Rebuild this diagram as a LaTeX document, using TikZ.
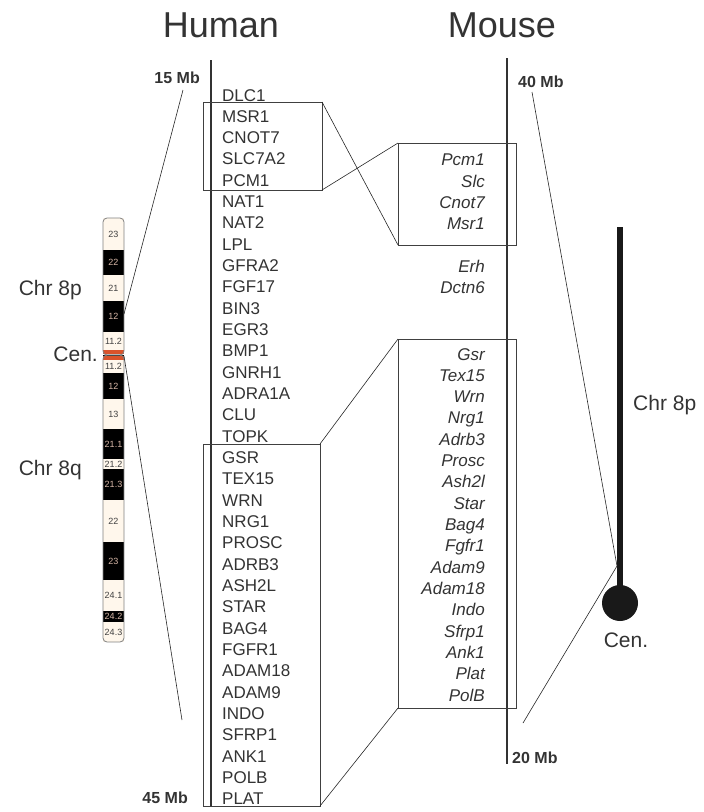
\documentclass[tikz,border=0pt]{standalone}
\usepackage{fontspec}
\setmainfont{Liberation Sans}
\definecolor{ink}{HTML}{333333}
\definecolor{cream}{HTML}{FFF7EC}
\definecolor{cenred}{HTML}{D9532B}
\definecolor{darklab}{HTML}{D8B8A8}
\tikzset{
  hgene/.style={inner sep=0pt, anchor=base west, text=ink, font=\fontsize{17}{17}\selectfont},
  mgene/.style={inner sep=0pt, anchor=base east, text=ink, font=\fontsize{17}{17}\selectfont\itshape},
  mb/.style={inner sep=0pt, text=ink, font=\fontsize{16}{16}\selectfont\bfseries},
  chrlab/.style={inner sep=0pt, text=ink, font=\fontsize{21}{21}\selectfont},
  title/.style={inner sep=0pt, anchor=base, text=ink, font=\fontsize{36}{36}\selectfont},
  axis/.style={line width=1.8pt, ink},
  box/.style={line width=0.8pt, black!75},
  link/.style={line width=0.6pt, black!85},
  bandlab/.style={inner sep=0pt, font=\fontsize{9}{9}\selectfont}
}
\begin{document}
\begin{tikzpicture}[x=1pt,y=-1pt]
\useasboundingbox (0,0) rectangle (704,812);

\node[title] (human) at (221,37) {Human};
\node[title] (mouse) at (502,37) {Mouse};

\coordinate (htop) at (211,60);
\coordinate (hbot) at (211,806);
\coordinate (mtop) at (507,58);
\coordinate (mbot) at (507,764);
\draw[axis] (htop) -- (hbot);
\draw[axis] (mtop) -- (mbot);

\node[mb, anchor=base east] (h15) at (200,83) {15 Mb};
\node[mb, anchor=base east] (h45) at (188,803) {45 Mb};
\node[mb, anchor=base west] (m40) at (518,87) {40 Mb};
\node[mb, anchor=base west] (m20) at (512,763) {20 Mb};

\foreach \g [count=\i from 0] in {DLC1,MSR1,CNOT7,SLC7A2,PCM1,NAT1,NAT2,LPL,GFRA2,FGF17,BIN3,EGR3,BMP1,GNRH1,ADRA1A,CLU,TOPK,GSR,TEX15,WRN,NRG1,PROSC,ADRB3,ASH2L,STAR,BAG4,FGFR1,ADAM18,ADAM9,INDO,SFRP1,ANK1,POLB,PLAT}
  \node[hgene] (hg\i) at (222,{101+21.33*\i}) {\g};

\foreach \g/\y in {Pcm1/165,Slc/187,Cnot7/208,Msr1/229,Erh/272,Dctn6/293}
  \node[mgene] (mg\g) at (485,\y) {\g};
\foreach \g [count=\i from 0] in {Gsr,Tex15,Wrn,Nrg1,Adrb3,Prosc,Ash2l,Star,Bag4,Fgfr1,Adam9,Adam18,Indo,Sfrp1,Ank1,Plat,PolB}
  \node[mgene] (mh\i) at (485,{360+21.33*\i}) {\g};

\coordinate (hAtl) at (203,102);
\coordinate (hAbr) at (322,190);
\coordinate (mAtl) at (398,143);
\coordinate (mAbr) at (516,245);
\draw[box] (hAtl) rectangle (hAbr);
\draw[box] (mAtl) rectangle (mAbr);
\draw[link] (hAtl -| hAbr) -- (mAtl |- mAbr);
\draw[link] (hAbr) -- (mAtl);

\coordinate (hBtl) at (203,444);
\coordinate (hBbr) at (320,806);
\coordinate (mBtl) at (398,339);
\coordinate (mBbr) at (516,708);
\draw[box] (hBtl) rectangle (hBbr);
\draw[box] (mBtl) rectangle (mBbr);
\draw[link] (hBtl -| hBbr) -- (mBtl);
\draw[link] (hBbr) -- (mBtl |- mBbr);

\foreach \t/\b/\d/\l in {218/250/0/23,250/275/1/22,275/301/0/21,301/332/1/12,332/350/0/11.2,360/373/0/11.2,373/399/1/12,399/429/0/13,429/459/1/21.1,459/469/0/21.2,469/500/1/21.3,500/542/0/22,542/580/1/23,580/611/0/24.1,611/622/1/24.2,622/642/0/24.3}{
  \ifnum\d=1
    \fill[black] (103,\t) rectangle (124,\b);
    \node[bandlab, text=darklab] at (113.5,{(\t+\b)/2}) {\l};
  \else
    \fill[cream] (103,\t) rectangle (124,\b);
    \node[bandlab, text=black!75] at (113.5,{(\t+\b)/2}) {\l};
  \fi
}
\fill[cenred] (103,350) rectangle (124,354);
\fill[cenred] (103,356) rectangle (124,360);
\draw[line width=1pt] (103,355) -- (124,355);
\draw[gray, line width=0.8pt, rounded corners=4pt] (103,218) rectangle (124,355);
\draw[gray, line width=0.8pt, rounded corners=4pt] (103,355) rectangle (124,642);

\node[chrlab, anchor=base east] (p8h) at (82,295) {Chr 8p};
\node[chrlab, anchor=base east] (cenh) at (98,361) {Cen.};
\node[chrlab, anchor=base east] (q8h) at (82,475) {Chr 8q};

\coordinate (ip) at (124,314);
\coordinate (iq) at (124,356);
\coordinate (hp) at (183,90);
\coordinate (hq) at (182,720);
\draw[link] (ip) -- (hp);
\draw[link] (iq) -- (hq);

\fill[black!90] (617,227) rectangle (623,592);
\fill[black!90] (620,603) circle (18);
\node[chrlab, anchor=base west] (p8m) at (633,410) {Chr 8p};
\node[chrlab, anchor=base] (cenm) at (626,647) {Cen.};

\coordinate (mcen) at (617,566);
\coordinate (m40e) at (532,92);
\coordinate (m20e) at (523,723);
\draw[link] (m40e) -- (mcen);
\draw[link] (m20e) -- (mcen);
\end{tikzpicture}
\end{document}
